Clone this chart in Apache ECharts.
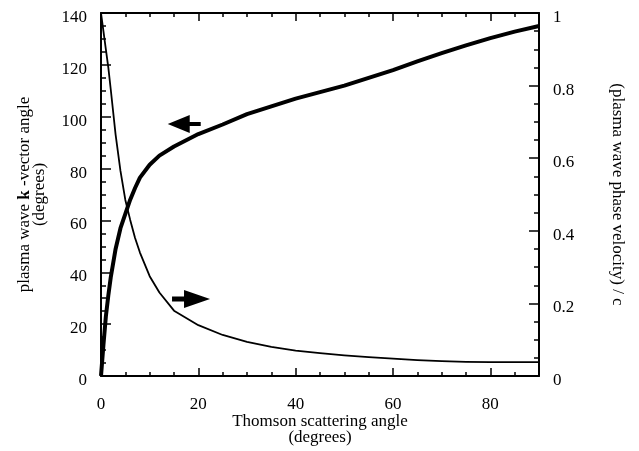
<!DOCTYPE html>
<html>
<head>
<meta charset="utf-8">
<script src="https://cdn.jsdelivr.net/npm/echarts@6/dist/echarts.min.js"></script>
<style>
  html, body { margin: 0; padding: 0; background: #fff; }
  #chart { width: 639px; height: 451px; }
</style>
</head>
<body>
<div id="chart"></div>
<script>
// thick curve: plasma wave k-vector angle (left axis, degrees)
const kAngleX = [0, 0.5, 1, 1.5, 2, 3, 4, 5, 6, 7, 8, 10, 12, 15, 20, 25, 30, 35, 40, 45, 50, 55, 60, 65, 70, 75, 80, 85, 90]
const kAngle = [0, 12, 23, 31, 38, 49, 57, 62.5, 68, 72.5, 76.5, 81.5, 85, 88.5, 93.3, 97, 101, 104, 107, 109.5, 112, 115, 118, 121.3, 124.5, 127.5, 130.3, 132.8, 135]

// thin curve: plasma wave phase velocity / c (right axis)
const velX = [0, 0.5, 1, 1.5, 2, 3, 4, 5, 6, 7, 8, 10, 12, 15, 20, 25, 30, 35, 40, 45, 50, 55, 60, 65, 70, 75, 80, 85, 90]
const phaseVel = [1, 0.95, 0.9, 0.85, 0.79, 0.665, 0.565, 0.485, 0.43, 0.38, 0.34, 0.275, 0.23, 0.18, 0.14, 0.113, 0.094, 0.08, 0.07, 0.063, 0.057, 0.052, 0.048, 0.044, 0.041, 0.039, 0.038, 0.038, 0.038]

// x axis ticks
const xMajor = [0, 20, 40, 60, 80]
const xMinor = [0, 5, 10, 15, 20, 25, 30, 35, 40, 45, 50, 55, 60, 65, 70, 75, 80, 85, 90]

const font = 'Liberation Serif'
const black = '#000'
const fs = 17
const plotW = 438
const plotH = 363

const chart = echarts.init(document.getElementById('chart'))

const pairs = (xs, ys) => xs.map((x, i) => [x, ys[i]])

const tickStyle = { color: black, width: 1.5 }

// y labels sit a little below their ticks in the original
const yLabel = { color: black, fontFamily: font, fontSize: fs, margin: 14, verticalAlign: 'top', lineHeight: 9 }

// tick-only axes are put on the opposite side with a negative offset,
// so their (outward) ticks point into the plot like the original frame
const xTicks = (position, values, length) => ({
  type: 'value',
  min: 0,
  max: 90,
  position: position,
  offset: -plotH,
  splitLine: { show: false },
  axisLine: { show: false, onZero: false },
  axisTick: { show: true, length: length, customValues: values, lineStyle: tickStyle },
  axisLabel: { show: false }
})

const yTicks = (position, max, interval) => ({
  type: 'value',
  min: 0,
  max: max,
  interval: interval,
  position: position,
  offset: -plotW,
  splitLine: { show: false },
  axisLine: { show: false, onZero: false },
  axisTick: { show: true, length: 10, lineStyle: tickStyle },
  minorTick: { show: true, splitNumber: 4, length: 5, lineStyle: tickStyle },
  axisLabel: { show: false }
})

chart.setOption({
  animation: false,
  backgroundColor: '#fff',
  grid: {
    left: 101,
    right: 100,
    top: 13,
    bottom: 75,
    containLabel: false,
    outerBoundsMode: 'none'
  },
  xAxis: [
    {
      type: 'value',
      min: 0,
      max: 90,
      position: 'bottom',
      splitLine: { show: false },
      axisLine: { onZero: false, lineStyle: { color: black, width: 2 } },
      axisTick: { show: false },
      axisLabel: { customValues: xMajor, color: black, fontFamily: font, fontSize: fs, margin: 20 },
      name: 'Thomson scattering angle\n(degrees)',
      nameLocation: 'middle',
      nameGap: 38,
      nameMoveOverlap: false,
      nameTextStyle: { color: black, fontFamily: font, fontSize: fs, lineHeight: 16 }
    },
    {
      type: 'value',
      min: 0,
      max: 90,
      position: 'top',
      splitLine: { show: false },
      axisLine: { onZero: false, lineStyle: { color: black, width: 2 } },
      axisTick: { show: false },
      axisLabel: { show: false }
    },
    xTicks('top', xMinor, 4),
    xTicks('top', xMajor, 8),
    xTicks('bottom', xMinor, 4),
    xTicks('bottom', xMajor, 8)
  ],
  yAxis: [
    {
      type: 'value',
      position: 'left',
      min: 0,
      max: 140,
      interval: 20,
      splitLine: { show: false },
      axisLine: { onZero: false, lineStyle: { color: black, width: 2 } },
      axisTick: { show: false },
      axisLabel: yLabel,
      name: 'plasma wave {b|k} -vector angle\n(degrees)',
      nameLocation: 'middle',
      nameGap: 54,
      nameTextStyle: {
        color: black,
        fontFamily: font,
        fontSize: fs,
        lineHeight: 15,
        rich: {
          b: { fontWeight: 'bold', fontFamily: font, fontSize: fs, color: black, lineHeight: 15 }
        }
      }
    },
    {
      type: 'value',
      position: 'right',
      min: 0,
      max: 1,
      interval: 0.2,
      splitLine: { show: false },
      axisLine: { onZero: false, lineStyle: { color: black, width: 2 } },
      axisTick: { show: false },
      axisLabel: yLabel,
      name: '(plasma wave phase velocity) / c',
      nameLocation: 'middle',
      nameGap: 70,
      nameRotate: -90,
      nameTextStyle: { color: black, fontFamily: font, fontSize: fs }
    },
    yTicks('right', 140, 20),
    yTicks('left', 1, 0.2)
  ],
  series: [
    {
      name: 'k-vector angle',
      type: 'line',
      xAxisIndex: 0,
      yAxisIndex: 0,
      showSymbol: false,
      smooth: false,
      lineStyle: { color: black, width: 4, join: 'round' },
      data: pairs(kAngleX, kAngle),
      markPoint: {
        symbol: 'path://M0,9L22,0L22,7L33,7L33,11L22,11L22,18Z',
        symbolSize: [33, 18],
        symbolKeepAspect: false,
        itemStyle: { color: black },
        label: { show: false },
        data: [{ coord: [17.1, 97.2] }]
      }
    },
    {
      name: 'phase velocity',
      type: 'line',
      xAxisIndex: 0,
      yAxisIndex: 1,
      showSymbol: false,
      smooth: false,
      lineStyle: { color: black, width: 1.8, join: 'round' },
      data: pairs(velX, phaseVel),
      markPoint: {
        symbol: 'path://M38,9L12,0L12,6.5L0,6.5L0,11.5L12,11.5L12,18Z',
        symbolSize: [38, 18],
        symbolKeepAspect: false,
        itemStyle: { color: black },
        label: { show: false },
        data: [{ coord: [18.5, 0.212] }]
      }
    }
  ]
})
</script>
</body>
</html>
